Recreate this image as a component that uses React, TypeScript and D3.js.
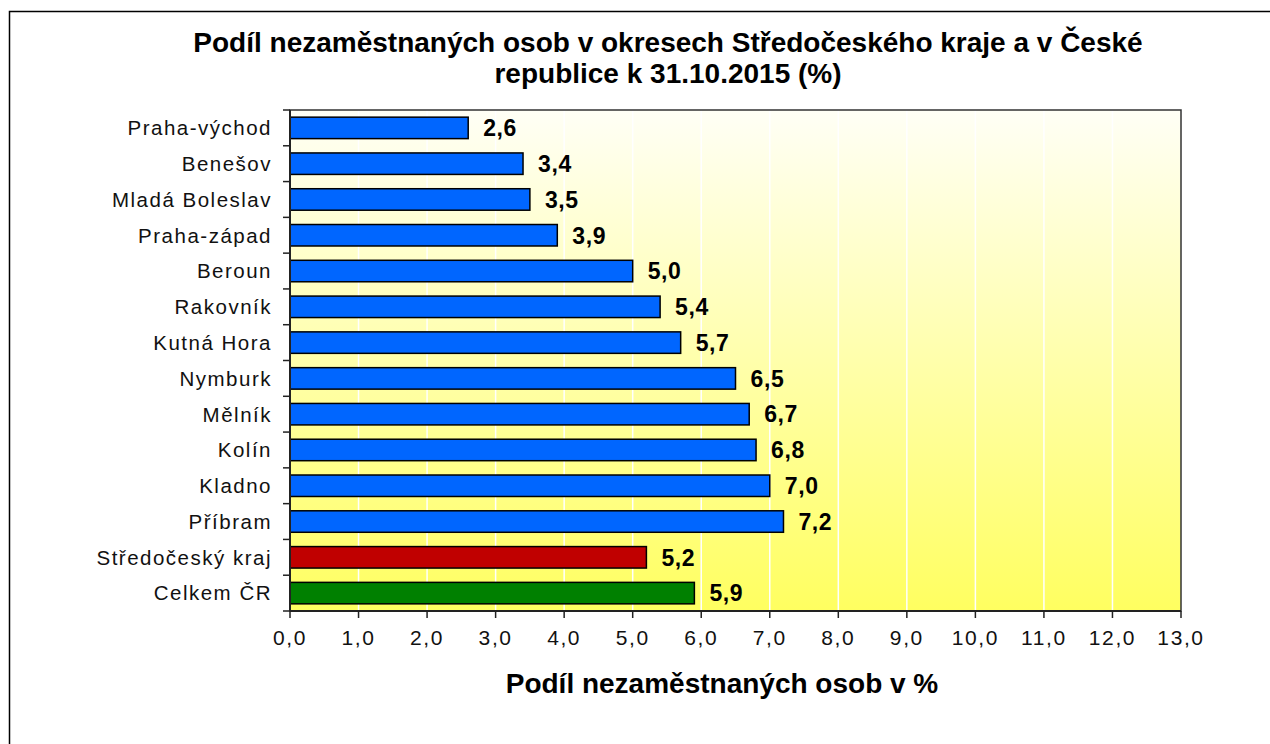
import React from 'react';
import * as d3 from 'd3';

const categories = [
  'Praha-východ', 'Benešov', 'Mladá Boleslav', 'Praha-západ', 'Beroun', 'Rakovník',
  'Kutná Hora', 'Nymburk', 'Mělník', 'Kolín', 'Kladno', 'Příbram', 'Středočeský kraj', 'Celkem ČR'
];
const values = [2.6, 3.4, 3.5, 3.9, 5.0, 5.4, 5.7, 6.5, 6.7, 6.8, 7.0, 7.2, 5.2, 5.9];
const barColors = [
  '#0066FF', '#0066FF', '#0066FF', '#0066FF', '#0066FF', '#0066FF', '#0066FF',
  '#0066FF', '#0066FF', '#0066FF', '#0066FF', '#0066FF', '#C00000', '#008000'
];
const xTicks = [0, 1, 2, 3, 4, 5, 6, 7, 8, 9, 10, 11, 12, 13];
const titleLines = [
  'Podíl nezaměstnaných osob v okresech Středočeského kraje a v České',
  'republice k 31.10.2015 (%)'
];
const xAxisTitle = 'Podíl nezaměstnaných osob v %';

const W = 1270;
const H = 744;
const margin = { top: 110, right: 89, bottom: 133, left: 290 };

const fmt = (v: number) => d3.format('.1f')(v).replace('.', ',');

export default function App() {
  const innerW = W - margin.left - margin.right;
  const innerH = H - margin.top - margin.bottom;

  const x = d3.scaleLinear().domain([0, 13]).range([0, innerW]);
  const y = d3.scaleBand<string>()
    .domain(categories)
    .range([0, innerH])
    .paddingInner(0.4)
    .paddingOuter(0.2);

  const step = y.step();
  const gap = (step - y.bandwidth()) / 2;
  const yTicks = categories.map(c => (y(c) as number) - gap).concat([innerH]);

  const font = 'Arial, "Liberation Sans", sans-serif';

  return (
    <svg width={W} height={H} style={{ position: 'absolute', left: 0, top: 0, background: '#fff' }}>
      <defs>
        <linearGradient id="bg" x1="0" y1="0" x2="0" y2="1">
          <stop offset="0" stopColor="#FFFFF6" />
          <stop offset="1" stopColor="#FFFF60" />
        </linearGradient>
      </defs>

      {/* rámeček grafu */}
      <rect x={9.5} y={11.5} width={W + 20} height={H + 20} fill="none" stroke="#000" strokeWidth={1.5} />

      {/* titulek */}
      {titleLines.map((t, i) => (
        <text key={i} x={668} y={52 + i * 31} textAnchor="middle" fontFamily={font}
          fontWeight="bold" fontSize={28} fill="#000">{t}</text>
      ))}

      <g transform={`translate(${margin.left},${margin.top})`}>
        <rect x={0} y={0} width={innerW} height={innerH} fill="url(#bg)" />

        {/* mřížka */}
        {xTicks.slice(1, -1).map(t => (
          <line key={t} x1={x(t)} x2={x(t)} y1={0} y2={innerH} stroke="#fff" strokeWidth={1.5} />
        ))}

        {/* sloupce */}
        {categories.map((c, i) => (
          <rect key={c} x={0} y={y(c)} width={x(values[i])} height={y.bandwidth()}
            fill={barColors[i]} stroke="#000" strokeWidth={1.5} />
        ))}

        {/* hodnoty */}
        {categories.map((c, i) => (
          <text key={c} x={x(values[i]) + 15} y={(y(c) as number) + y.bandwidth() / 2}
            dy="0.36em" fontFamily={font} fontWeight="bold" fontSize={23}
            letterSpacing={0.6} fill="#000">{fmt(values[i])}</text>
        ))}

        {/* okraj */}
        <rect x={0} y={0} width={innerW} height={innerH} fill="none" stroke="#333" strokeWidth={1.5} />
        <line x1={0} x2={0} y1={0} y2={innerH} stroke="#222" strokeWidth={2} />
        <line x1={0} x2={innerW} y1={innerH} y2={innerH} stroke="#222" strokeWidth={2} />

        {/* osa y */}
        {yTicks.map((t, i) => (
          <line key={i} x1={-7} x2={0} y1={t} y2={t} stroke="#222" strokeWidth={1.5} />
        ))}
        {categories.map(c => (
          <text key={c} x={-18} y={(y(c) as number) + y.bandwidth() / 2} dy="0.36em"
            textAnchor="end" fontFamily={font} fontSize={20.5} letterSpacing={1.5}
            fill="#111">{c}</text>
        ))}

        {/* osa x */}
        {xTicks.map(t => (
          <g key={t} transform={`translate(${x(t)},0)`}>
            <line y1={innerH} y2={innerH + 7} stroke="#222" strokeWidth={1.5} />
            <text y={innerH + 34} textAnchor="middle" fontFamily={font} fontSize={21}
              letterSpacing={1.6} fill="#111">{fmt(t)}</text>
          </g>
        ))}
      </g>

      <text x={722} y={693} textAnchor="middle" fontFamily={font} fontWeight="bold"
        fontSize={28} fill="#000">{xAxisTitle}</text>
    </svg>
  );
}
